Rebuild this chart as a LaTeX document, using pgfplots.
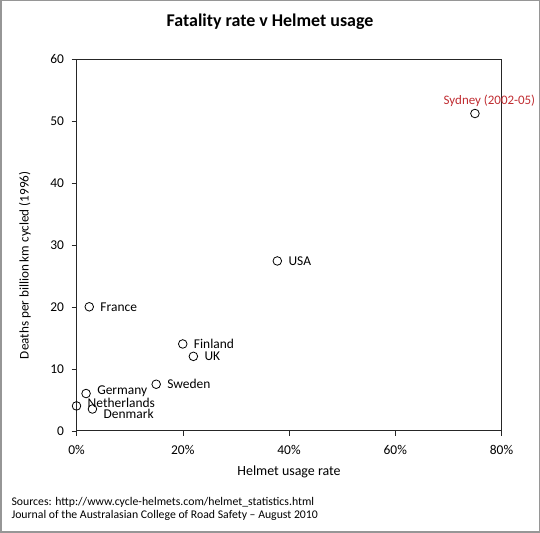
\documentclass[border=0pt]{standalone}
\usepackage{pgfplots}
\pgfplotsset{compat=1.18}
\usepackage{pgfplotstable}
\usepackage{fontspec}
\setmainfont{Carlito}
\definecolor{sydred}{RGB}{192,45,50}
\definecolor{framegray}{RGB}{150,150,150}
\newcommand{\chartfont}{\fontsize{13.5}{15}\selectfont}

\pgfplotstableread{
x    y     label        dy
2.4  20    France       0
20   14    Finland      0
22   12    UK           0
15   7.5   Sweden       0
1.8  6     Germany      2.5
0    4     Netherlands  3
3    3.5   Denmark      -4.5
37.8 27.4  USA          0
}\countries

\pgfplotstableread{
x   y     label
75  51.2  {Sydney (2002-05)}
}\sydney

\begin{document}
\begin{tikzpicture}[x=1bp,y=1bp]
  % outer frame of the picture
  \draw[framegray, line width=1.5bp] (0.75,0.75) rectangle (539.25,532.25);

  \node[font=\fontsize{18}{20}\selectfont\bfseries] at (270,511.5) {Fatality rate v Helmet usage};

  \begin{axis}[
    at={(76.5bp,102.3bp)}, anchor=south west,
    scale only axis,
    width=425bp, height=371.7bp,
    xmin=0, xmax=80, ymin=0, ymax=60,
    xtick={0,20,40,60,80},
    ytick={0,10,20,30,40,50,60},
    xticklabel={\pgfmathprintnumber{\tick}\%},
    tick pos=left,
    tick align=outside,
    major tick length=5bp,
    axis line style={black!85},
    tick style={black!85},
    tick label style={font=\chartfont},
    xticklabel style={yshift=-6.5bp},
    yticklabel style={xshift=-4bp},
    /pgf/number format/assume math mode=true,
    xlabel={Helmet usage rate},
    ylabel={Deaths per billion km cycled (1996)},
    every axis x label/.append style={at={(axis description cs:0.5,-0.111)}, anchor=center,
      font=\fontsize{14}{16}\selectfont},
    every axis y label/.append style={at={(axis description cs:-0.1212,0.445)}, anchor=center,
      font=\fontsize{13.2}{15}\selectfont},
    clip=false,
  ]
    \addplot[only marks, mark=o, mark size=4.3bp, black, mark options={fill=white, line width=0.8bp},
      visualization depends on={\thisrow{dy} \as \dy},
      nodes near coords, point meta=explicit symbolic,
      every node near coord/.append style={anchor=west, xshift=7.5bp, yshift=\dy bp, black, font=\chartfont}]
      table[x=x, y=y, meta=label] {\countries};
    \addplot[only marks, mark=o, mark size=4.3bp, black, mark options={fill=white, line width=0.8bp},
      nodes near coords, point meta=explicit symbolic,
      every node near coord/.append style={anchor=south, xshift=14.5bp, yshift=3bp, sydred,
        font=\fontsize{13}{15}\selectfont}]
      table[x=x, y=y, meta=label] {\sydney};
  \end{axis}

  \node[anchor=west, font=\fontsize{11.8}{13}\selectfont] at (8,31) {Sources: http://www.cycle-helmets.com/helmet\_statistics.html};
  \node[anchor=west, font=\fontsize{11.8}{13}\selectfont] at (8,17.6) {Journal of the Australasian College of Road Safety – August 2010};
\end{tikzpicture}
\end{document}
